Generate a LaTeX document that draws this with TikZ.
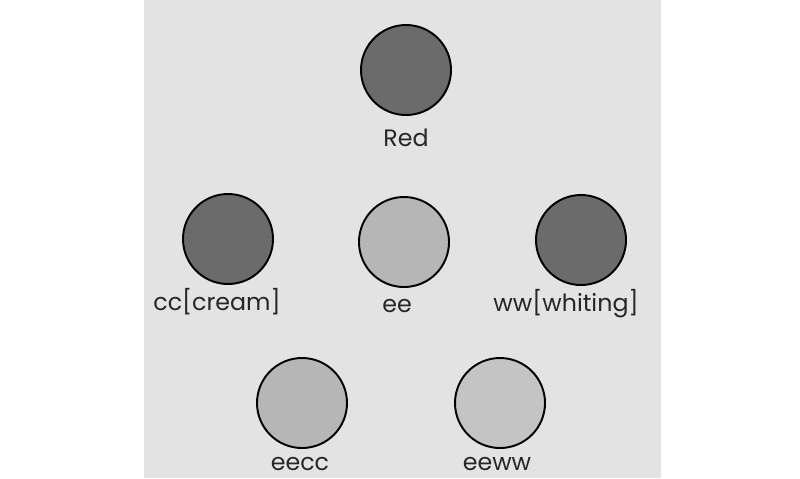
\documentclass[tikz,border=0pt]{standalone}
\usepackage{fontspec}
\setmainfont{Poppins}
\definecolor{plate}{HTML}{E3E3E3}
\definecolor{darkspot}{HTML}{6B6B6B}
\definecolor{lightspot}{HTML}{B6B6B6}
\definecolor{paleSpot}{HTML}{C4C4C4}
\tikzset{
  spot/.style={circle, draw=black, line width=1.1pt, minimum size=90\px, inner sep=0pt},
  darkdot/.style={spot, fill=darkspot},
  lightdot/.style={spot, fill=lightspot},
  paledot/.style={spot, fill=paleSpot},
  tag/.style={font=\fontsize{13.5}{13.5}\selectfont, inner sep=0pt, text=black!85},
}
\newlength{\px}
\setlength{\px}{0.02cm}
\begin{document}
\begin{tikzpicture}[x=0.02cm, y=-0.02cm]
    \useasboundingbox (0,0) rectangle (800,478);
    \fill[plate] (144,0) rectangle (661,478);
    \node[darkdot] (red) at (406,70) {};
    \node[tag] (redlbl) at (406,138) {Red};
    \node[darkdot] (cc) at (228,239) {};
    \node[lightdot] (ee) at (404,242) {};
    \node[darkdot] (ww) at (581,240) {};
    \node[tag] (cclbl) at (217,302) {cc[cream]};
    \node[tag] (eelbl) at (397,306) {ee};
    \node[tag] (wwlbl) at (566,304) {ww[whiting]};
    \node[lightdot] (eecc) at (302,403) {};
    \node[paledot] (eeww) at (500,403) {};
    \node[tag] (eecclbl) at (300,464) {eecc};
    \node[tag] (eewwlbl) at (497,464) {eeww};
  \end{tikzpicture}
\end{document}
